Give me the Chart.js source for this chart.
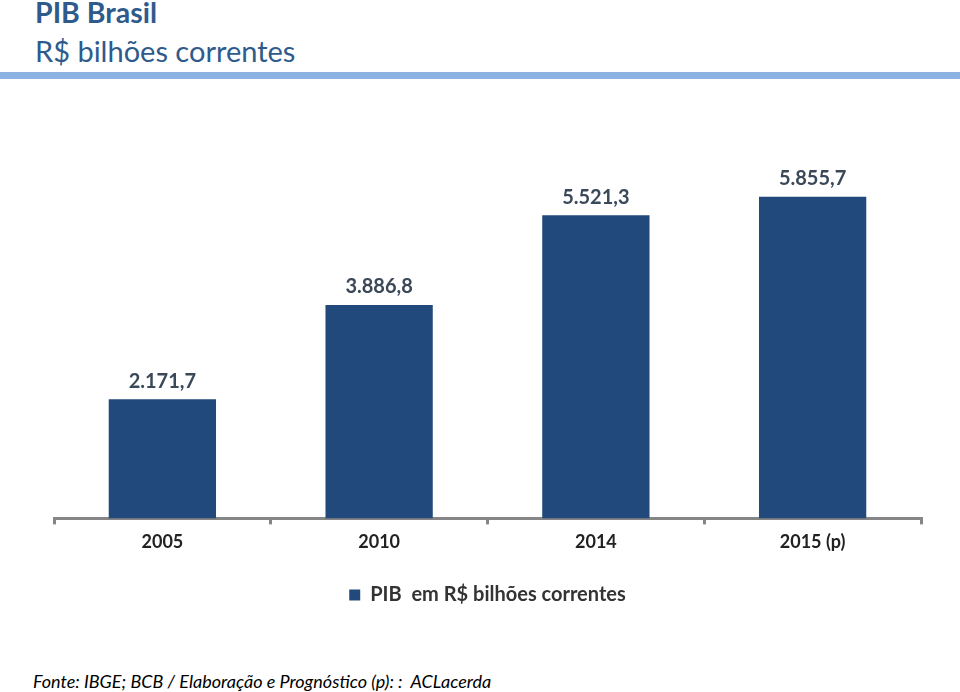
<!DOCTYPE html>
<html>
<head>
<meta charset="utf-8">
<script src="https://cdn.jsdelivr.net/npm/chart.js@4"></script>
<style>
  body { margin: 0; width: 960px; height: 692px; background: #fff; position: relative; overflow: hidden; font-family: Lato, "Open Sans", sans-serif; }
  #title { position: absolute; left: 35px; top: -5px; font-size: 28.5px; font-weight: bold; color: #2e5b8c; }
  #subtitle { position: absolute; left: 35px; top: 33px; font-size: 29px; color: #2e5b8c; }
  #rule { position: absolute; left: 0; top: 72px; width: 960px; height: 7px; background: #8db3e2; }
  #chartBox { position: absolute; left: 0; top: 90px; width: 960px; height: 530px; }
  #footer { position: absolute; left: 33px; top: 670px; font-size: 18px; font-style: italic; color: #000; }
</style>
</head>
<body>
<div id="title">PIB Brasil</div>
<div id="subtitle">R$ bilhões correntes</div>
<div id="rule"></div>
<div id="chartBox"><canvas id="pibChart"></canvas></div>
<div id="footer">Fonte: IBGE; BCB / Elaboração e Prognóstico (p): :&nbsp; ACLacerda</div>
<script>
// data
const years = ["2005", "2010", "2014", "2015 (p)"];
const pibValues = [2171.7, 3886.8, 5521.3, 5855.7];
const seriesLabel = "PIB  em R$ bilhões correntes";

//formats 2171.7 as 2.171,7
function formatBR(v) {
  const parts = v.toFixed(1).split(".");
  const intPart = parts[0].replace(/\B(?=(\d{3})+(?!\d))/g, ".");
  return intPart + "," + parts[1];
}

//value labels above bars
const valueLabels = {
  id: "valueLabels",
  afterDatasetsDraw(chart) {
    const ctx = chart.ctx;
    const meta = chart.getDatasetMeta(0);
    ctx.save();
    ctx.font = "bold 20px Lato, sans-serif";
    ctx.fillStyle = "#3a4858";
    ctx.textAlign = "center";
    ctx.textBaseline = "middle";
    meta.data.forEach((bar, i) => {
      ctx.fillText(formatBR(chart.data.datasets[0].data[i]), bar.x, bar.y - 18);
    });
    ctx.restore();
  },
};

const pibData = {
  labels: years,
  datasets: [
    {
      label: seriesLabel,
      backgroundColor: "#21497b",
      borderWidth: 0,
      categoryPercentage: 1,
      barPercentage: 0.495,
      data: pibValues,
    },
  ],
};

const pibConfig = {
  type: "bar",
  data: pibData,
  plugins: [valueLabels],
  options: {
    responsive: true,
    maintainAspectRatio: false,
    animation: false,
    layout: { padding: { left: 54, right: 39, top: 44, bottom: 5 } },
    plugins: {
      tooltip: { enabled: false },
      legend: {
        position: "bottom",
        labels: {
          boxWidth: 11,
          boxHeight: 11,
          padding: 22,
          color: "#333",
          font: { family: "Lato, sans-serif", size: 20, weight: "bold" },
        },
      },
    },
    scales: {
      x: {
        offset: true,
        grid: { offset: true, drawOnChartArea: false, drawTicks: true, tickLength: 6, color: "#868686", lineWidth: 3 },
        border: { display: true, color: "#868686", width: 3 },
        ticks: { color: "#222", padding: 7, font: { family: "Lato, sans-serif", size: 18, weight: "bold" } },
        afterFit(scale) {
          //a bit more room under the labels
          scale.height += 3;
        },
      },
      y: {
        display: false,
        min: 0,
        max: 7000,
      },
    },
  },
};

const pibChart = new Chart(document.getElementById("pibChart"), pibConfig);
</script>
</body>
</html>
